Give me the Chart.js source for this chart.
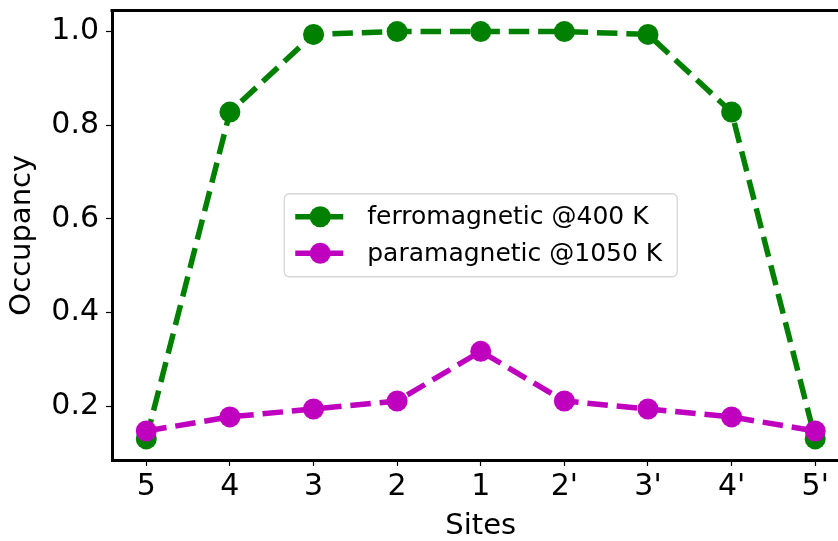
<!DOCTYPE html>
<html>
<head>
<meta charset="utf-8">
<script src="https://cdn.jsdelivr.net/npm/chart.js@4.4.1/dist/chart.umd.min.js"></script>
<style>
  html, body { margin: 0; padding: 0; overflow: hidden; background: #fff; }
  #wrap { width: 860px; height: 541px; }
</style>
</head>
<body>
<div id="wrap"><canvas id="c" width="860" height="541"></canvas></div>
<script>
// ---- data ----
const sites = ["5", "4", "3", "2", "1", "2'", "3'", "4'", "5'"];
const ferroValues = [0.130, 0.828, 0.994, 1.000, 1.000, 1.000, 0.994, 0.828, 0.130];
const paraValues  = [0.147, 0.177, 0.194, 0.211, 0.317, 0.211, 0.194, 0.177, 0.147];
const yTickValues = [0.2, 0.4, 0.6, 0.8, 1.0];
const seriesLabels = ["ferromagnetic @400 K", "paramagnetic @1050 K"];
const seriesColors = ["#008000", "#bf00bf"];

const FONT = "'DejaVu Sans', sans-serif";

const toPoints = vals => vals.map((v, i) => ({ x: i, y: v }));

const framePlugin = {
  id: 'frame',
  afterDraw(chart) {
    const { ctx, chartArea: a } = chart;
    ctx.save();
    ctx.strokeStyle = '#000';
    ctx.lineWidth = 3;
    ctx.beginPath();
    ctx.moveTo(a.left - 1.5, a.top);
    ctx.lineTo(a.right + 1.5, a.top);
    ctx.moveTo(a.right, a.top);
    ctx.lineTo(a.right, a.bottom);
    ctx.stroke();
    ctx.restore();
  }
};

const legendPlugin = {
  id: 'innerLegend',
  afterDraw(chart) {
    const { ctx, chartArea: a } = chart;
    const cx = (a.left + a.right) / 2, cy = (a.top + a.bottom) / 2;
    const w = 393, h = 83;
    const x0 = cx - w / 2, y0 = cy - h / 2;
    ctx.save();
    ctx.beginPath();
    if (ctx.roundRect) ctx.roundRect(x0, y0, w, h, 5); else ctx.rect(x0, y0, w, h);
    ctx.fillStyle = 'rgba(255,255,255,0.8)';
    ctx.fill();
    ctx.strokeStyle = '#d6d6d6';
    ctx.lineWidth = 1.3;
    ctx.stroke();
    const rows = [cy - 18.5, cy + 18];
    chart.data.datasets.forEach((ds, i) => {
      const y = rows[i];
      ctx.strokeStyle = ds.borderColor;
      ctx.lineWidth = 5.5;
      ctx.setLineDash([]);
      ctx.beginPath();
      ctx.moveTo(x0 + 11, y);
      ctx.lineTo(x0 + 59, y);
      ctx.stroke();
      ctx.fillStyle = ds.pointBackgroundColor;
      ctx.beginPath();
      ctx.arc(x0 + 36, y, 10.5, 0, Math.PI * 2);
      ctx.fill();
      ctx.fillStyle = '#000';
      ctx.font = "25px " + FONT;
      ctx.textBaseline = 'middle';
      ctx.textAlign = 'left';
      ctx.fillText(ds.label, x0 + 83, y + 1);
    });
    ctx.restore();
  }
};

const mkDataset = (label, vals, color, order) => ({
  label,
  data: toPoints(vals),
  borderColor: color,
  backgroundColor: color,
  pointBackgroundColor: color,
  pointBorderColor: color,
  pointBorderWidth: 0,
  pointRadius: 10.5,
  pointHoverRadius: 10.5,
  borderWidth: 5.5,
  borderDash: [20.5, 8.9],
  tension: 0,
  fill: false,
  order
});

const zeroPad = s => {
  s.paddingLeft = 0; s.paddingRight = 0; s.paddingTop = 0; s.paddingBottom = 0;
  s.getPadding = () => ({ left: 0, top: 0, right: 0, bottom: 0 });
};

new Chart(document.getElementById('c'), {
  type: 'line',
  data: {
    datasets: [
      mkDataset(seriesLabels[0], ferroValues, seriesColors[0], 1),
      mkDataset(seriesLabels[1], paraValues, seriesColors[1], 0)
    ]
  },
  plugins: [framePlugin, legendPlugin],
  options: {
    responsive: false,
    animation: false,
    devicePixelRatio: 1,
    layout: { padding: { top: 9, left: 0, right: 0, bottom: 0 } },
    plugins: { legend: { display: false }, tooltip: { enabled: false } },
    scales: {
      x: {
        type: 'linear',
        min: -0.41,
        max: 8.41,
        beforeUpdate: zeroPad,
        afterFit(s) { s.height = 81; zeroPad(s); },
        afterBuildTicks(s) { s.ticks = sites.map((_, i) => ({ value: i })); },
        ticks: {
          autoSkip: false,
          maxRotation: 0,
          padding: 3,
          color: '#000',
          font: { family: FONT, size: 30 },
          callback: v => sites[v]
        },
        grid: { drawOnChartArea: false, drawTicks: true, tickLength: 6, tickWidth: 1.2, tickColor: '#000', color: '#000' },
        border: { display: true, color: '#000', width: 3 },
        title: { display: true, text: 'Sites', color: '#000', font: { family: FONT, size: 29 }, padding: { top: 0, bottom: -3 } }
      },
      y: {
        type: 'linear',
        min: 0.085,
        max: 1.045,
        beforeUpdate: zeroPad,
        afterFit(s) { s.width = 112; zeroPad(s); },
        afterBuildTicks(s) { s.ticks = yTickValues.map(v => ({ value: v })); },
        ticks: {
          padding: 7,
          color: '#000',
          font: { family: FONT, size: 30 },
          callback: v => v.toFixed(1)
        },
        grid: { drawOnChartArea: false, drawTicks: true, tickLength: 6, tickWidth: 1.2, tickColor: '#000', color: '#000' },
        border: { display: true, color: '#000', width: 3 },
        title: { display: true, text: 'Occupancy', color: '#000', font: { family: FONT, size: 29 }, padding: { top: 5, bottom: 0 } }
      }
    }
  }
});
</script>
</body>
</html>
